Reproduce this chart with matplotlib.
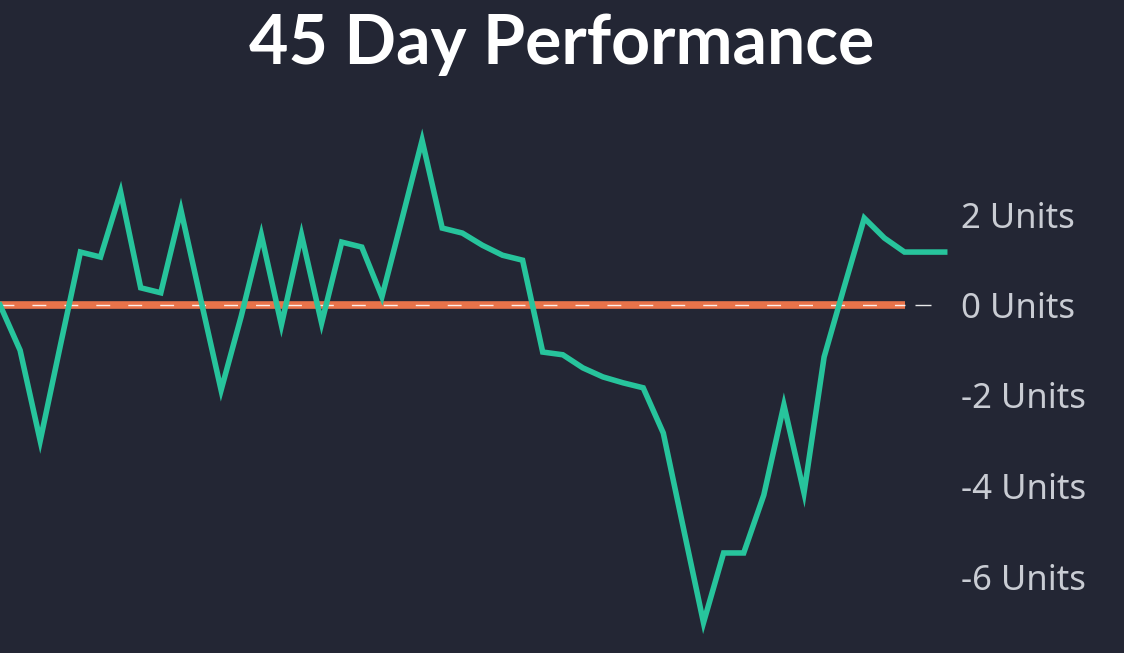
import matplotlib
matplotlib.use("Agg")
import matplotlib.pyplot as plt
import numpy as np

# daily performance in units
days = list(range(48))
units = [0.0, -1.0, -3.0, -0.9, 1.17, 1.06, 2.5, 0.38, 0.27, 2.1,
         0.1, -1.88, -0.25, 1.55, -0.44, 1.55, -0.4, 1.39, 1.28, 0.18,
         1.9, 3.64, 1.7, 1.59, 1.32, 1.1, 0.99, -1.04, -1.1, -1.39,
         -1.59, -1.72, -1.83, -2.83, -4.93, -7.02, -5.48, -5.48, -4.2, -2.21,
         -4.15, -1.15, 0.4, 1.92, 1.48, 1.17, 1.17, 1.17]
tick_vals = [2, 0, -2, -4, -6]
tick_labels = ["2 Units", "0 Units", "-2 Units", "-4 Units", "-6 Units"]
zero_end = 45

bg = "#232634"
W, H = 1124, 653
fig = plt.figure(figsize=(W / 100, H / 100), dpi=100, facecolor=bg)

px_x = 20.1    # pixels per day
px_y = 45.25   # pixels per unit
zero_px = 305  # zero line from top
ax_right = 950

ax = fig.add_axes([0, 0, ax_right / W, 1])
ax.set_facecolor(bg)
ax.set_xlim(0, ax_right / px_x)
ax.set_ylim(-(H - zero_px) / px_y, zero_px / px_y)

# zero line: orange with a thin white dash on top, plus a short tick past its end
ax.plot([0, zero_end], [0, 0], color="#e8734a", lw=5.5, solid_capstyle="butt", zorder=2)
ax.plot([0, zero_end], [0, 0], color="white", lw=1.0, ls=(0, (10, 13)), alpha=0.9, zorder=3)
ax.plot([zero_end + 0.5, zero_end + 1.3], [0, 0], color="white", lw=1.0, alpha=0.9,
        solid_capstyle="butt", zorder=3)

ax.plot(days, units, color="#27c49c", lw=4.0, solid_joinstyle="miter", zorder=4, clip_on=False)

for s in ax.spines.values():
    s.set_visible(False)
ax.set_xticks([])
ax.yaxis.tick_right()
ax.set_yticks(tick_vals)
ax.set_yticklabels(tick_labels, fontfamily="Noto Sans", fontsize=25, color="#c9ccd3")
ax.tick_params(axis="y", length=0, pad=8)

fig.text(0.5, 1 - 44 / H, "45 Day Performance", ha="center", va="center",
         fontfamily="Lato", fontweight="bold", fontsize=49, color="white")

fig.savefig("out.png", dpi=100, facecolor=bg)
